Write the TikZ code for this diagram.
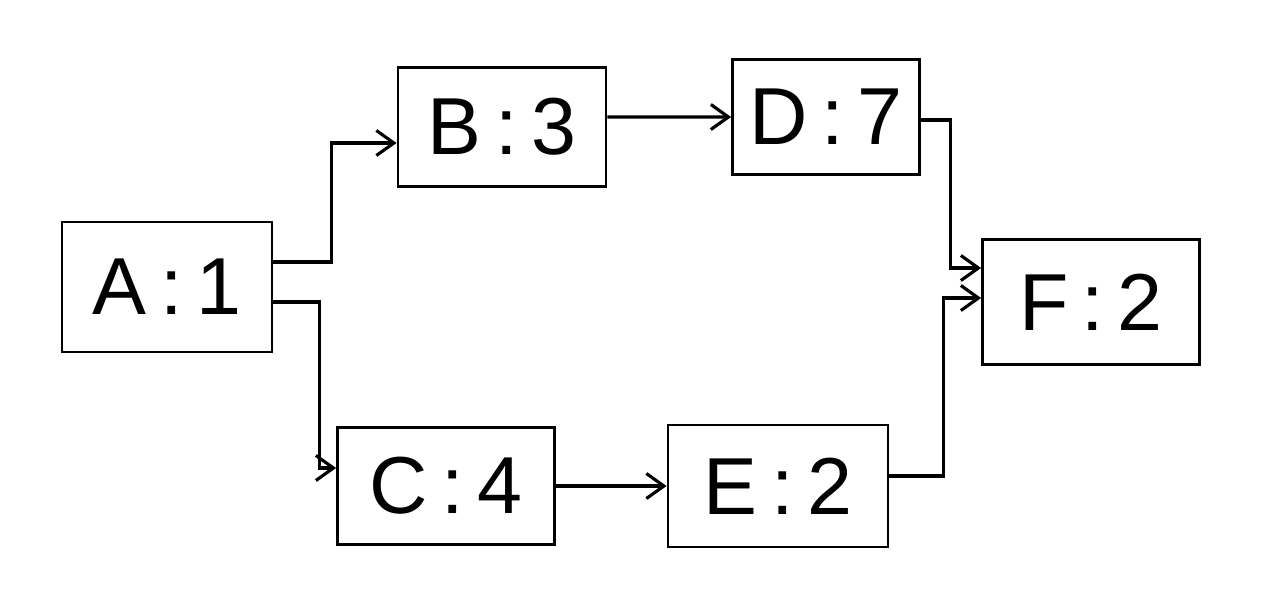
\documentclass[tikz,border=0pt]{standalone}
\usepackage{fontspec}
\setmainfont{Liberation Sans}
\usetikzlibrary{arrows.meta}
\tikzset{
    task/.style={draw, line width=1.6pt, inner sep=0pt, font=\fontsize{46}{56}\selectfont},
    link/.style={line width=1.8pt, -{Straight Barb[length=3.5mm,width=5mm]}}
}
\begin{document}
\begin{tikzpicture}
    \useasboundingbox (0,0) rectangle (25.6,12.2);
    % tasks
    \node[task, minimum width=4.2cm, minimum height=2.6cm] (A) at (3.34, 6.46) {A\,:\,1};
    \node[task, minimum width=4.16cm, minimum height=2.38cm] (B) at (10.04, 9.66) {B\,:\,3};
    \node[task, minimum width=3.74cm, minimum height=2.3cm] (D) at (16.52, 9.86) {D\,:\,7};
    \node[task, minimum width=4.34cm, minimum height=2.34cm] (C) at (8.92, 2.48) {C\,:\,4};
    \node[task, minimum width=4.4cm, minimum height=2.44cm] (E) at (15.56, 2.48) {E\,:\,2};
    \node[task, minimum width=4.34cm, minimum height=2.5cm] (F) at (21.82, 6.16) {F\,:\,2};
    % links
    \draw [link] ([yshift=0.5cm]A.east) -- ++(1.16,0) |- ([yshift=-0.32cm]B.west);
    \draw [link] ([yshift=-0.3cm]A.east) -- ++(0.92,0) |- ([yshift=0.36cm]C.west);
    \draw [link] ([yshift=0.2cm]B.east) -- (D.west);
    \draw [link] (C.east) -- (E.west);
    \draw [link] ([yshift=-0.06cm]D.east) -- ++(0.6,0) |- ([yshift=0.68cm]F.west);
    \draw [link] ([yshift=0.2cm]E.east) -- ++(1.08,0) |- ([yshift=0.08cm]F.west);
\end{tikzpicture}
\end{document}
